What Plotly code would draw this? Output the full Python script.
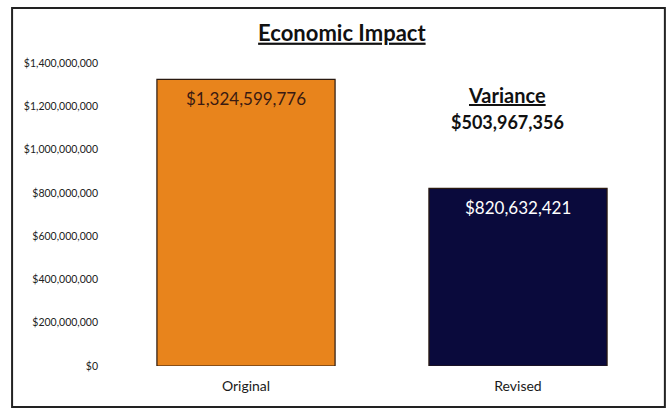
import plotly.graph_objects as go

categories = ["Original", "Revised"]
values = [1324599776, 820632421]
bar_colors = ["#E8841C", "#0A0A3C"]
label_colors = ["#3A1A12", "#FFFFFF"]
bar_labels = ["$1,324,599,776", "$820,632,421"]
variance_label = "$503,967,356"
tick_vals = [0, 200e6, 400e6, 600e6, 800e6, 1000e6, 1200e6, 1400e6]
tick_text = ["$0", "$200,000,000", "$400,000,000", "$600,000,000", "$800,000,000",
             "$1,000,000,000", "$1,200,000,000", "$1,400,000,000"]

FONT = "Lato"

fig = go.Figure()
fig.add_trace(go.Bar(
    x=categories, y=values,
    marker=dict(color=bar_colors, line=dict(color="#2a1a10", width=1.2)),
    width=0.655,
    hoverinfo="skip",
))

for cat, val, lab, col in zip(categories, values, bar_labels, label_colors):
    fig.add_annotation(x=cat, y=val, xref="x", yref="y", text=lab, showarrow=False,
                       yanchor="middle", yshift=-19,
                       font=dict(family=FONT, size=17, color=col))

fig.add_annotation(x=0.96, y=1252e6, xref="x", yref="y", text="<b><u>Variance</u></b>",
                   showarrow=False, font=dict(family=FONT, size=20, color="#111"))
fig.add_annotation(x=0.96, y=1127e6, xref="x", yref="y", text="<b>" + variance_label + "</b>",
                   showarrow=False, font=dict(family=FONT, size=18, color="#111"))

# outer border
fig.add_shape(type="rect", xref="paper", yref="paper",
              x0=-0.180, x1=1.020, y0=-0.135, y1=1.1815,
              line=dict(color="#222", width=2), fillcolor="rgba(0,0,0,0)", layer="below")

fig.update_layout(
    width=669, height=412,
    margin=dict(l=110, r=15, t=63, b=46),
    paper_bgcolor="white", plot_bgcolor="white",
    title=dict(text="<b><u>Economic Impact</u></b>", x=0.511, xanchor="center",
               y=0.92, yanchor="middle",
               font=dict(family=FONT, size=22, color="#111")),
    showlegend=False,
    xaxis=dict(showgrid=False, zeroline=False, showline=False, ticks="",
               ticklabelstandoff=10,
               tickfont=dict(family=FONT, size=14, color="#1a1a1a")),
    yaxis=dict(range=[0, 1400e6], tickvals=tick_vals, ticktext=tick_text,
               showgrid=False, zeroline=False, showline=False, ticks="",
               ticklabelstandoff=11,
               tickfont=dict(family=FONT, size=10.5, color="#222")),
)

fig.write_html("out.html")
